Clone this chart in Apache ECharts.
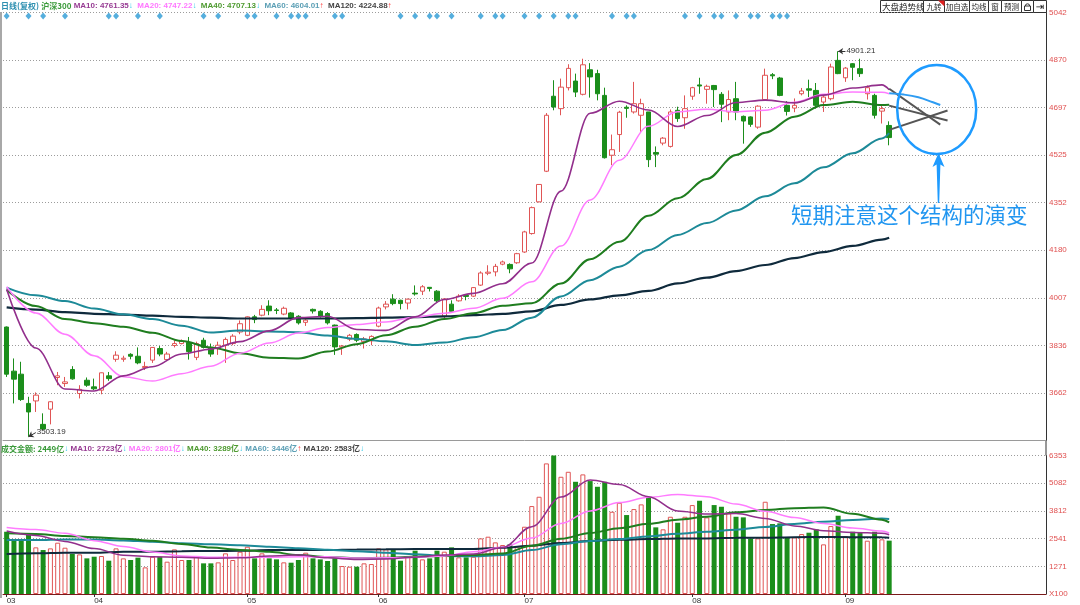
<!DOCTYPE html>
<html><head><meta charset="utf-8">
<script src="https://cdn.jsdelivr.net/npm/echarts@6/dist/echarts.min.js"></script>
<style>html,body{margin:0;padding:0;background:#fff;}#c{width:1080px;height:605px;}</style>
</head><body><div id="c"></div>
<script>
// ---------- categories (trading days, 2020) ----------
const marDays=[16,17,18,19,20,23,24,25,26,27,30,31];
const aprDays=[1,2,3,7,8,9,10,13,14,15,16,17,20,21,22,23,24,27,28,29,30];
const mayDays=[6,7,8,11,12,13,14,15,18,19,20,21,22,25,26,27,28,29];
const junDays=[1,2,3,4,5,8,9,10,11,12,15,16,17,18,19,22,23,24,29,30];
const julDays=[1,2,3,6,7,8,9,10,13,14,15,16,17,20,21,22,23,24,27,28,29,30,31];
const augDays=[3,4,5,6,7,10,11,12,13,14,17,18,19,20,21,24,25,26,27,28,31];
const sepDays=[1,2,3,4,7,8,9];
const FUTURE_SLOTS=21;

// ---------- price OHLC ----------
const openP=[3901,3741,3730,3624,3633,3548,3603,3718,3696,3747,
3660,3708,3684,3672,3724,3784,3784,3802,3795,3754,
3781,3823,3783,3834,3841,3845,3791,3853,3827,3823,
3835,3841,3883,3871,3938,3944,3977,3963,3948,3952,
3940,3918,3965,3958,3950,3908,3828,3857,3874,3848,
3851,3904,3974,4002,3998,3988,4024,4031,4045,4031,
3940,3984,3996,4016,4013,4053,4096,4101,4129,4128,
4134,4173,4240,4355,4466,4738,4693,4769,4793,4745,
4834,4820,4741,4524,4599,4698,4681,4669,4681,4534,
4568,4556,4687,4660,4738,4779,4763,4777,4745,4681,
4729,4665,4663,4626,4726,4816,4804,4705,4695,4747,
4765,4759,4717,4729,4868,4805,4856,4838,4747,4741,
4684,4632];
const closeP=[3730,3712,3638,3593,3654,3531,3630,3724,3702,3713,
3675,3690,3677,3735,3714,3799,3788,3795,3771,3758,
3827,3803,3803,3841,3850,3812,3841,3827,3803,3835,
3856,3868,3913,3938,3928,3965,3960,3961,3969,3932,
3916,3926,3959,3941,3916,3829,3832,3871,3853,3858,
3867,3970,3984,3986,3986,4002,4021,4047,4041,3996,
4003,3958,4013,4012,4044,4097,4100,4121,4137,4112,
4167,4246,4334,4418,4669,4699,4771,4839,4753,4852,
4808,4747,4515,4544,4680,4694,4711,4711,4508,4528,
4586,4681,4657,4693,4769,4775,4774,4762,4709,4726,
4681,4648,4636,4702,4814,4812,4741,4683,4705,4757,
4760,4705,4735,4844,4820,4840,4843,4820,4769,4669,
4693,4588];
const lowP=[3720,3624,3633,3503.19,3593,3527,3548,3690,3684,3710,
3642,3684,3672,3657,3706,3775,3775,3784,3766,3745,
3771,3795,3781,3827,3838,3783,3781,3823,3793,3800,
3771,3835,3875,3868,3915,3940,3944,3948,3944,3928,
3910,3905,3950,3935,3910,3800,3800,3850,3846,3823,
3835,3900,3965,3980,3965,3965,4015,4017,4030,3990,
3932,3955,3993,3998,4010,4050,4089,4085,4125,4096,
4130,4170,4236,4353,4463,4687,4669,4759,4735,4741,
4733,4723,4512,4488,4536,4660,4675,4608,4481,4481,
4560,4552,4645,4620,4725,4747,4711,4699,4644,4651,
4651,4566,4627,4620,4722,4800,4738,4668,4680,4741,
4735,4693,4681,4723,4818,4790,4796,4808,4726,4657,
4639,4560];
const highP=[3903,3787,3775,3648,3664,3588,3632,3738,3720,3759,
3690,3718,3714,3736,3738,3813,3797,3806,3827,3775,
3828,3832,3811,3853,3856,3865,3848,3862,3841,3848,
3863,3875,3925,3940,3945,3980,3998,3970,3975,3955,
3944,3930,3968,3962,3955,3910,3836,3876,3878,3865,
3871,3975,3995,4020,4000,4004,4052,4053,4046,4035,
4005,3998,4020,4020,4046,4103,4125,4130,4142,4132,
4170,4250,4338,4418,4677,4796,4802,4854,4820,4874,
4858,4834,4769,4599,4685,4705,4790,4729,4681,4556,
4590,4690,4700,4741,4772,4805,4780,4779,4753,4759,
4790,4668,4665,4705,4838,4822,4808,4720,4730,4768,
4798,4786,4741,4856,4901.21,4844,4858,4874,4777,4747,
4705,4647];

// ---------- turnover (亿) ----------
const volume=[2858,2523,2477,2738,2141,2018,2095,2355,2125,1835,
1819,1636,1712,1743,1529,2095,1636,1560,1667,1223,
1712,1712,1483,2049,1560,1560,1712,1407,1407,1453,
1866,1560,1942,2171,1636,1866,1636,1590,1453,1437,
1560,1896,1636,1590,1514,1636,1284,1254,1254,1407,
1376,2095,2049,2018,1529,1712,1988,1590,1636,1988,
1942,2141,1683,1683,1712,2553,2630,2370,2248,2278,
2171,3088,4037,4464,5995,6353,5381,5610,5151,5490,
5183,4922,5151,3776,4188,3624,3899,4114,4417,3059,
2968,3546,3271,3546,4082,4280,3518,4082,4005,3700,
3546,3518,2553,2553,4235,3211,3242,2600,2600,2752,
2813,2968,2278,3119,3593,2660,2858,2813,2446,2858,
2509,2449];

// ---------- moving averages at these day indices ----------
const maIdx=[0,4,8,12,16,20,24,28,32,36,40,44,48,52,56,60,64,68,72,76,80,84,88,92,96,100,104,108,112,116,120,121];
const ma10=[4038,3825,3676,3669,3724,3757,3803,3821,3848,3887,3935,3940,3892,3889,3938,4001,4023,4058,4133,4394,4676,4720,4688,4628,4668,4715,4724,4714,4742,4768,4779,4761.35];
const ma20=[4047,3952,3875,3797,3721,3705,3732,3759,3806,3843,3879,3899,3910,3919,3937,3951,3969,4005,4065,4195,4362,4506,4629,4682,4691,4681,4687,4716,4745,4753,4752,4747.22];
const ma40=[4035,3977,3930,3915,3902,3880,3850,3827,3806,3790,3787,3812,3839,3871,3902,3930,3951,3978,3987,4059,4147,4210,4305,4368,4438,4525,4606,4664,4706,4718,4706,4707.13];
const ma60=[4044,4016,3995,3968,3947,3930,3906,3881,3888,3885,3882,3870,3858,3849,3836,3845,3864,3890,3935,4012,4071,4120,4180,4235,4278,4324,4375,4422,4480,4531,4585,4604.01];
const ma120=[3972,3964,3955,3949,3946,3942,3938,3935,3932,3932,3932,3932,3933,3935,3937,3940,3944,3949,3958,3981,4001,4016,4032,4059,4080,4104,4126,4151,4173,4195,4218,4224.88];
const vma10=[2890,2690,2415,2085,1780,1710,1690,1636,1660,1745,1789,1660,1585,1605,1690,1790,1835,2130,3090,4450,5229,5025,4465,3813,3670,3690,3470,3125,2905,2823,2790,2723];
const vma20=[3058,2960,2790,2450,2180,1930,1750,1682,1682,1682,1712,1712,1650,1660,1690,1750,1942,2150,2570,3235,3814,4198,4438,4570,4465,4130,3795,3510,3240,3030,2890,2801];
const vma40=[2783,2753,2665,2610,2535,2445,2295,2130,2025,1935,1795,1700,1650,1665,1710,1745,1789,1860,2210,2536,2798,3023,3222,3414,3546,3750,3856,3940,3976,3680,3410,3289];
const vma60=[2477,2477,2505,2505,2460,2395,2330,2280,2240,2165,2098,2030,1965,1898,1830,1740,1730,1789,2018,2287,2438,2524,2638,2770,2858,2953,3080,3215,3317,3400,3460,3446];
const vma120=[1835,1866,1896,1896,1942,1942,1965,1972,1985,2018,2018,2018,2045,2049,2060,2064,2064,2125,2217,2344,2438,2489,2520,2553,2553,2580,2584,2610,2615,2610,2600,2583];

// ---------- hand-drawn projections inside the circle ----------
const projAIdx=[121,128], projAVal=[4765,4635];
const projBIdx=[121,129], projBVal=[4704,4650];
const projCIdx=[121,129], projCVal=[4616,4686];
const projBlueIdx=[121,123,125,127,128], projBlueVal=[4749,4744,4734,4716,4706];

// ---------- signal diamonds (day indices) ----------
const signalIdx=[0,3,5,8,14,15,18,21,27,29,33,34,37,39,40,41,45,46,54,56,58,59,61,65,67,68,71,73,75,77,78,83,85,86,93,95,97,98,100,102,103,105,106,107];
const SIGNAL_LEVEL=5029;

// ---------- axes ticks / legend texts ----------
const priceTickLabels=['','3662','3836','4007','4180','4352','4525','4697','4870','5042'];
const PRICE_MIN=3489.5, PRICE_MAX=5042;
const volTickLabels=['X100','1271','2541','3812','5082','6353'];
const VOL_MAX=6353;
const priceMaNames=['MA10','MA20','MA40','MA60','MA120'];
const priceMaLast=['4761.35','4747.22','4707.13','4604.01','4224.88'];
const priceMaTrend=['dn','dn','dn','up','up'];
const volLast='2449';
const volMaLast=['2723','2801','3289','3446','2583'];
const volMaTrend=['dn','dn','dn','up','dn'];
const volTrend='dn';
const highLabel={idx:114, value:4901.21};
const lowLabel={idx:3, value:3503.19};
const noteText='短期注意这个结构的演变';
const buttons=['大盘趋势线','九转','加自选','均线','窗','预测'];

// ---------- build ----------
const dates=[];
[['03',marDays],['04',aprDays],['05',mayDays],['06',junDays],['07',julDays],['08',augDays],['09',sepDays]]
 .forEach(([m,ds])=>ds.forEach(d=>dates.push('2020-'+m+'-'+String(d).padStart(2,'0'))));
const categories=dates.slice();
for(let k=1;k<=FUTURE_SLOTS;k++) categories.push('F'+k);
const ohlc=openP.map((o,i)=>[o,closeP[i],lowP[i],highP[i]]);
const pair=(idx,vals)=>idx.map((d,k)=>[d,vals[k]]);
const isMonthStart=(idx)=>idx<dates.length&&(idx===0||dates[idx].slice(5,7)!==dates[idx-1].slice(5,7));

const FONT="'Liberation Sans','Noto Sans CJK SC',sans-serif";
const CJK="'Noto Sans CJK SC','Liberation Sans',sans-serif";
const C={ma10:'#922f8c',ma20:'#ff7cff',ma40:'#1f7d1f',ma60:'#1d8a98',ma120:'#0f2a3c',up:'#e05555',down:'#1b8e1b'};
const legColors=['#973b93','#ff77ff','#4e9a30','#5b9fb5','#444'];

const richBase={
  t:{color:'#2d8fb0',fontSize:8,fontFamily:CJK},
  n:{color:'#3a9a3a',fontSize:8,fontFamily:CJK},
  dn:{color:'#2ec8e8',fontSize:8,fontFamily:FONT},
  up:{color:'#ff3333',fontSize:8,fontFamily:FONT}
};
legColors.forEach((c,k)=>{richBase['m'+k]={color:c,fontSize:8,fontFamily:FONT};});
richBase.v={color:'#3a9a3a',fontSize:8,fontFamily:CJK};
const arrowOf=t=>t==='up'?'↑':'↓';
let topText='{t|日线(复权)} {n|沪深300} ';
priceMaNames.forEach((nm,k)=>{topText+='{m'+k+'|'+nm+': '+priceMaLast[k]+'}{'+priceMaTrend[k]+'|'+arrowOf(priceMaTrend[k])+'}  ';});
let volText='{v|成交金额: '+volLast+'亿}{'+volTrend+'|'+arrowOf(volTrend)+'} ';
priceMaNames.forEach((nm,k)=>{volText+='{m'+k+'|'+nm+': '+volMaLast[k]+'亿}{'+volMaTrend[k]+'|'+arrowOf(volMaTrend[k])+'} ';});

function maLine(data,color,width,xi,yi){
  return {type:'line',xAxisIndex:xi,yAxisIndex:yi,data:data,smooth:0.35,smoothMonotone:'x',symbol:'none',
    lineStyle:{color:color,width:width},itemStyle:{color:color},silent:true,z:3};
}
function projLine(data,color,smooth){
  return {type:'line',xAxisIndex:0,yAxisIndex:0,data:data,smooth:smooth,symbol:'none',
    lineStyle:{color:color,width:2},itemStyle:{color:color},silent:true,z:4};
}

// layout constants
const GRID_L=3, GRID_R=34, P_TOP=12.4, P_H=428.1, V_TOP=455.6, V_H=138.4;
const AXIS_X=1080-GRID_R;

// top-right toolbar geometry
const btnBoxes=[[880,923],[923,944],[944,969],[969,988],[988,1001],[1001,1021]];
const lockBox=[1021,1033], pinBox=[1033,1046];
const graphics=[];
graphics.push({type:'rect',shape:{x:0,y:12,width:2,height:586},style:{fill:'#a8a8a8'},silent:true});
graphics.push({type:'rect',shape:{x:AXIS_X-0.5,y:P_TOP+P_H,width:1,height:V_TOP-P_TOP-P_H},style:{fill:'#333'},silent:true});
btnBoxes.forEach((b,k)=>{
  graphics.push({type:'rect',shape:{x:b[0]+0.5,y:0.5,width:b[1]-b[0],height:12},style:{fill:'#fff',stroke:'#333',lineWidth:1},silent:true,z:k*2});
  graphics.push({type:'text',style:{text:buttons[k],x:k===0?b[0]+2:(b[0]+b[1])/2+0.5,y:7,align:k===0?'left':'center',verticalAlign:'middle',fontSize:k===0?8.5:7.5,fontFamily:CJK,fill:'#222'},silent:true,z:k*2+1});
});
graphics.push({type:'polygon',shape:{points:[[938,0.5],[944.5,0.5],[944.5,6.5]]},style:{fill:'#e02020'},silent:true,z:20});
[lockBox,pinBox].forEach(b=>graphics.push({type:'rect',shape:{x:b[0]+0.5,y:0.5,width:b[1]-b[0],height:12},style:{fill:'#fff',stroke:'#333',lineWidth:1},silent:true,z:14}));
graphics.push({type:'rect',shape:{x:lockBox[0]+3.5,y:6,width:6,height:4.5},style:{fill:'none',stroke:'#333',lineWidth:1},silent:true,z:15});
graphics.push({type:'arc',shape:{cx:lockBox[0]+6.5,cy:6,r:2.2,startAngle:Math.PI,endAngle:0,clockwise:true},style:{fill:'none',stroke:'#333',lineWidth:1},silent:true,z:15});
graphics.push({type:'text',style:{text:'⇥',x:(pinBox[0]+pinBox[1])/2+0.5,y:7,align:'center',verticalAlign:'middle',fontSize:10,fontFamily:"'DejaVu Sans'",fill:'#111'},silent:true,z:15});
// annotation circle, arrow, note
graphics.push({type:'ellipse',shape:{cx:936.7,cy:109.5,rx:39.5,ry:44.5},style:{fill:'none',stroke:'#1e9bff',lineWidth:2.5},silent:true,z:30});
graphics.push({type:'polygon',shape:{points:[[938.5,153],[932.5,167],[936.6,164.5],[937.8,203],[939.2,203],[940.4,164.5],[944.5,167]]},style:{fill:'#1e9bff'},silent:true,z:30});
graphics.push({type:'text',style:{text:noteText,x:791,y:215,verticalAlign:'middle',fontSize:21.5,fontFamily:CJK,fill:'#2196f0'},silent:true,z:30});

const option={
  animation:false,
  backgroundColor:'#ffffff',
  title:[
    {left:1,top:1,padding:0,text:topText,textStyle:{fontSize:8,lineHeight:10,rich:richBase}},
    {left:1,top:444,padding:0,text:volText,textStyle:{fontSize:8,lineHeight:10,rich:richBase}}
  ],
  grid:[
    {left:GRID_L,right:GRID_R,top:P_TOP,height:P_H},
    {left:GRID_L,right:GRID_R,top:V_TOP,height:V_H}
  ],
  xAxis:[
    {gridIndex:0,type:'category',data:categories,boundaryGap:true,
     axisLine:{show:true,lineStyle:{color:'#9a9a9a',width:1}},axisTick:{show:false},axisLabel:{show:false},splitLine:{show:false}},
    {gridIndex:1,type:'category',data:categories,boundaryGap:true,
     axisLine:{show:true,lineStyle:{color:'#7a1a1a',width:1}},
     axisTick:{show:true,alignWithLabel:true,interval:isMonthStart,length:3,lineStyle:{color:'#333'}},
     axisLabel:{interval:isMonthStart,formatter:v=>v.slice(5,7),align:'left',fontSize:8,color:'#333',margin:3,fontFamily:FONT},
     splitLine:{show:false}}
  ],
  yAxis:[
    {gridIndex:0,type:'value',position:'right',min:PRICE_MIN,max:PRICE_MAX,show:false},
    {gridIndex:0,type:'value',position:'right',min:0,max:priceTickLabels.length-1,interval:1,
     axisLine:{show:true,lineStyle:{color:'#333'}},axisTick:{show:false},
     axisLabel:{formatter:v=>priceTickLabels[Math.round(v)]||'',color:'#e05050',fontSize:8,fontFamily:FONT,margin:3},
     splitLine:{show:true,lineStyle:{type:[1,2],color:'#9c9c9c',width:1}}},
    {gridIndex:1,type:'value',position:'right',min:0,max:VOL_MAX,show:false},
    {gridIndex:1,type:'value',position:'right',min:0,max:volTickLabels.length-1,interval:1,
     axisLine:{show:true,lineStyle:{color:'#333'}},axisTick:{show:false},
     axisLabel:{formatter:v=>volTickLabels[Math.round(v)]||'',color:'#e05050',fontSize:8,fontFamily:FONT,margin:3},
     splitLine:{show:true,lineStyle:{type:[1,2],color:'#9c9c9c',width:1}}}
  ],
  series:[
    {type:'candlestick',xAxisIndex:0,yAxisIndex:0,data:ohlc,barWidth:5,silent:true,
     itemStyle:{color:'#ffffff',color0:C.down,borderColor:C.up,borderColor0:C.down,borderWidth:1},
     markLine:{silent:true,animation:false,symbol:['arrow','none'],symbolSize:5,
       lineStyle:{type:'solid',color:'#333',width:1},
       label:{show:true,position:'end',formatter:'{b}',color:'#333',fontSize:8,fontFamily:FONT,distance:1},
       data:[
         [{name:String(highLabel.value),coord:[dates[highLabel.idx],highLabel.value]},{coord:[dates[highLabel.idx+1],highLabel.value]}],
         [{name:String(lowLabel.value),coord:[dates[lowLabel.idx],lowLabel.value]},{coord:[dates[lowLabel.idx+1],lowLabel.value+15]}]
       ]}},
    maLine(pair(maIdx,ma120),C.ma120,2.2,0,0),
    maLine(pair(maIdx,ma60),C.ma60,2,0,0),
    maLine(pair(maIdx,ma40),C.ma40,2,0,0),
    maLine(pair(maIdx,ma20),C.ma20,1.5,0,0),
    maLine(pair(maIdx,ma10),C.ma10,1.6,0,0),
    projLine(pair(projAIdx,projAVal),'#555',false),
    projLine(pair(projBIdx,projBVal),'#555',false),
    projLine(pair(projCIdx,projCVal),'#555',false),
    projLine(pair(projBlueIdx,projBlueVal),'#2e9cf2',0.4),
    {type:'scatter',xAxisIndex:0,yAxisIndex:0,data:signalIdx.map(i=>[i,SIGNAL_LEVEL]),symbol:'diamond',symbolSize:[6,7],
     itemStyle:{color:'#2a9ad4'},silent:true,z:5},
    {type:'bar',xAxisIndex:1,yAxisIndex:2,barWidth:5,silent:true,
     data:volume.map((v,i)=>({value:v,itemStyle:closeP[i]>=openP[i]
        ?{color:'#ffffff',borderColor:C.up,borderWidth:1}
        :{color:C.down,borderColor:C.down,borderWidth:0}}))},
    maLine(pair(maIdx,vma120),C.ma120,2,1,2),
    maLine(pair(maIdx,vma60),C.ma60,2,1,2),
    maLine(pair(maIdx,vma40),C.ma40,2,1,2),
    maLine(pair(maIdx,vma20),C.ma20,1.5,1,2),
    maLine(pair(maIdx,vma10),C.ma10,1.5,1,2)
  ],
  graphic:graphics
};
const chart=echarts.init(document.getElementById('c'),null,{renderer:'canvas',width:1080,height:605});
chart.setOption(option);
</script>
</body></html>
